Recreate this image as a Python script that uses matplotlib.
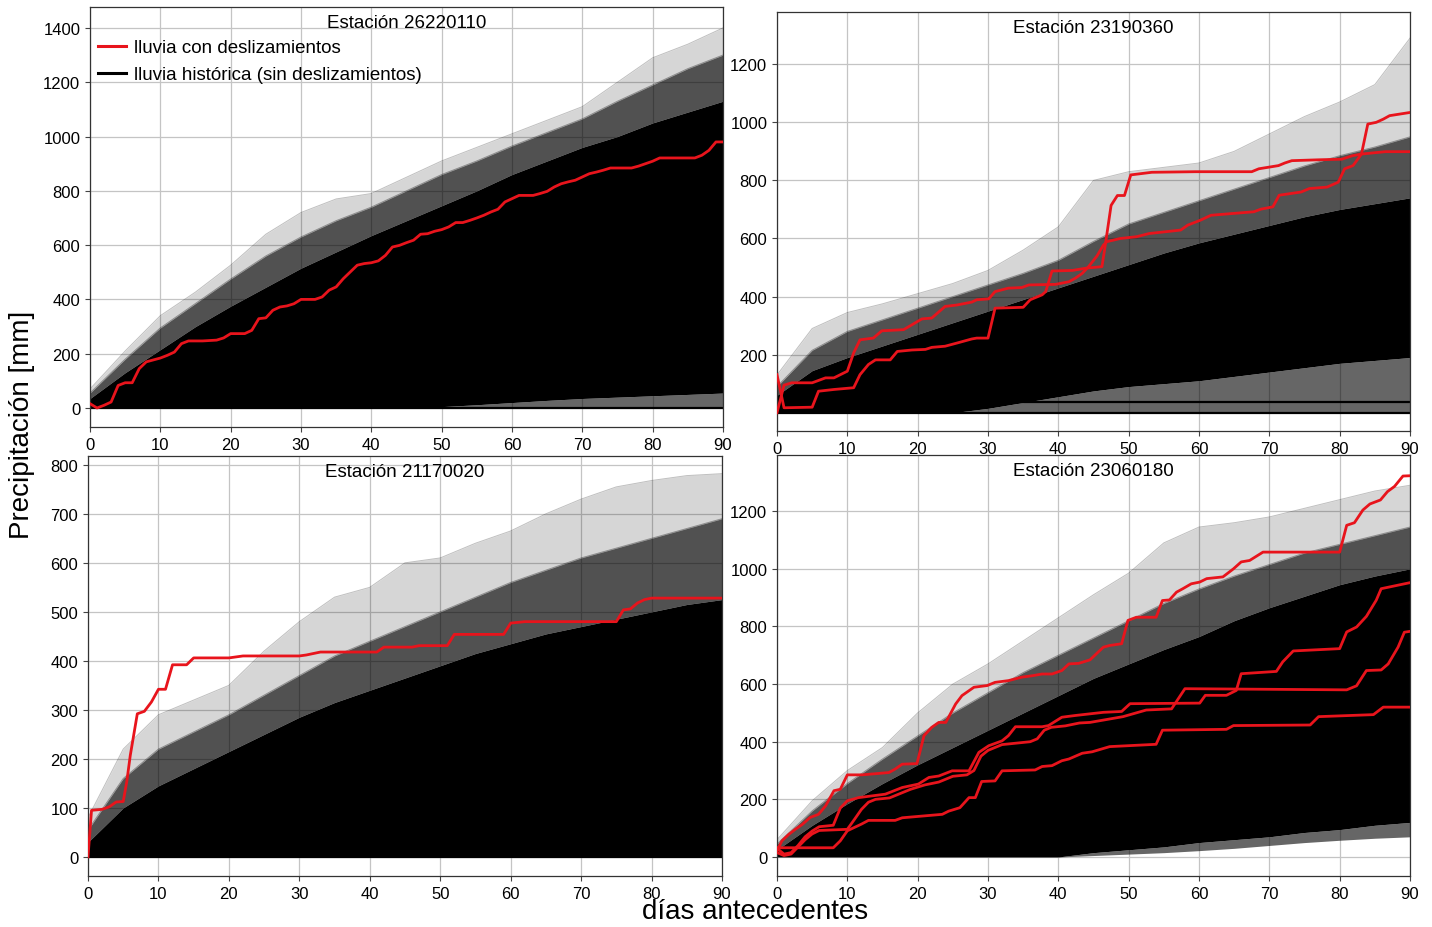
import matplotlib
matplotlib.use("Agg")
import matplotlib.pyplot as plt
from matplotlib.lines import Line2D

plt.rcParams.update({"font.family": ["Liberation Sans", "DejaVu Sans"],
                     "font.size": 12})

# envelope sample days (the black mass of historic curves is drawn as bands)
ENV_DAYS = [0, 5, 10, 15, 20, 25, 30, 35, 40, 45, 50, 55, 60, 65, 70, 75, 80, 85, 90]

# ---- Estación 26220110 ------------------------------------------------- #
S1_OUTER = [70, 210, 340, 427, 526, 640, 720, 770, 790, 850, 910, 960, 1010,
            1060, 1110, 1200, 1290, 1340, 1400]
S1_MID = [55, 180, 295, 385, 475, 560, 630, 690, 740, 800, 860, 910, 965,
          1015, 1065, 1130, 1190, 1250, 1300]
S1_DENSE = [35, 130, 215, 300, 375, 445, 515, 575, 635, 690, 745, 800, 860,
            910, 960, 1000, 1050, 1090, 1130]
S1_SOLID_LO = [0, 0, 0, 0, 0, 0, 0, 0, 0, 0, 5, 12, 20, 28, 35, 40, 45, 50, 55]
S1_FLOOR = [0] * 19
S1_HLINES = [0]
S1_RED = [(
    [0, 1, 2, 3, 4, 5, 6, 7, 8, 10, 11, 12, 13, 14, 16, 18, 19, 20, 22, 23, 24,
     25, 26, 27, 28, 29, 30, 32, 33, 34, 35, 36, 37, 38, 39, 40, 41, 42, 43, 44,
     45, 46, 47, 48, 49, 50, 51, 52, 53, 54, 55, 56, 57, 58, 59, 60, 61, 63, 64,
     65, 66, 67, 68, 69, 70, 71, 72, 73, 74, 77, 78, 79, 80, 81, 86, 87, 88, 89,
     90],
    [16, 0, 10, 22, 83, 93, 93, 145, 170, 184, 194, 206, 237, 247, 247, 250,
     258, 274, 274, 286, 329, 332, 360, 372, 376, 384, 400, 400, 409, 434, 446,
     476, 501, 526, 532, 535, 542, 562, 593, 599, 609, 618, 640, 642, 651, 657,
     667, 683, 683, 691, 700, 710, 722, 732, 759, 771, 783, 783, 790, 798, 814,
     826, 833, 839, 851, 863, 869, 876, 884, 884, 891, 900, 909, 921, 921, 931,
     949, 980, 980])]

# ---- Estación 23190360 ------------------------------------------------- #
S2_OUTER = [130, 290, 345, 375, 410, 445, 490, 560, 640, 800, 830, 845, 860,
            900, 960, 1020, 1070, 1130, 1290]
S2_MID = [90, 215, 280, 320, 360, 400, 440, 480, 525, 590, 650, 690, 730,
          770, 810, 850, 885, 915, 950]
S2_DENSE = [60, 145, 190, 230, 270, 310, 350, 390, 430, 470, 510, 550, 585,
            615, 645, 675, 700, 720, 740]
S2_SOLID_LO = [0, 0, 0, 0, 0, 0, 15, 35, 55, 75, 90, 100, 110, 125, 140, 155,
               170, 180, 190]
S2_FLOOR = [0] * 19
S2_HLINES = [0, 38]
S2_RED = [
    ([0, 1, 2.1, 5, 6.9, 8.1, 10, 10.9, 11.8, 13.7, 14.9, 18, 19.2, 20.6, 22,
      23.9, 25.6, 27.7, 28.4, 30.1, 31, 32.9, 34.8, 35.8, 39.6, 41.5, 42.4,
      43.4, 44.3, 45.5, 46.4, 46.9, 48.8, 51.1, 52.9, 57.4, 58.4, 60.2, 61.7,
      67.8, 68.8, 70.5, 71.4, 74.5, 75.7, 78.2, 79.8, 80.7, 81.9, 82.6, 83.1,
      84, 85.2, 86.2, 87.1, 90],
     [0, 95, 103, 103, 120, 120, 143, 206, 251, 257, 282, 286, 303, 323, 326,
      366, 371, 381, 389, 392, 417, 429, 431, 440, 442, 451, 463, 480, 503, 540,
      577, 589, 600, 606, 617, 629, 646, 663, 680, 692, 701, 709, 749, 760, 772,
      777, 794, 840, 851, 874, 891, 994, 1000, 1011, 1023, 1034]),
    ([0, 1, 5, 5.9, 8.1, 10.9, 11.8, 13, 14, 16.1, 17.1, 19.2, 21.1, 22, 23.9,
      25.6, 27.7, 28.4, 30, 31, 35, 36, 37.7, 38.2, 39.1, 42, 44, 46.2, 46.6,
      47.5, 48.4, 49.4, 50.3, 53.3, 59.5, 67.5, 68.5, 71.3, 72.2, 73.2, 77,
      80.3, 81.8, 83.2, 86.5, 90],
     [131, 17, 19, 74, 80, 86, 131, 166, 182, 182, 211, 216, 218, 225, 229, 240,
      254, 257, 257, 360, 363, 389, 406, 417, 488, 490, 498, 503, 565, 714, 748,
      748, 819, 828, 830, 830, 840, 851, 860, 868, 871, 873, 885, 891, 899,
      899]),
]

# ---- Estación 21170020 ------------------------------------------------- #
S3_OUTER = [80, 220, 290, 320, 350, 420, 480, 530, 550, 600, 610, 640, 665,
            700, 730, 755, 768, 778, 782]
S3_MID = [55, 160, 220, 255, 290, 330, 370, 410, 440, 470, 500, 530, 560,
          585, 610, 630, 650, 670, 690]
S3_DENSE = [30, 100, 145, 180, 215, 250, 285, 315, 340, 365, 390, 415, 435,
            455, 470, 485, 500, 515, 525]
S3_SOLID_LO = [0] * 19
S3_FLOOR = [0] * 19
S3_HLINES = [0]
S3_RED = [(
    [0, 0.5, 2, 3, 4, 5, 5.5, 6, 7, 8, 9, 10, 11, 12, 14, 15, 20, 22, 30, 31,
     33, 41, 42, 46, 47, 51, 52, 59, 60, 62, 75, 76, 77, 78, 79, 80, 90],
    [0, 95, 97, 102, 112, 113, 153, 207, 292, 297, 316, 342, 342, 392, 392,
     406, 406, 410, 410, 412, 418, 418, 428, 428, 431, 431, 454, 454, 477, 480,
     480, 504, 506, 518, 525, 528, 528])]

# ---- Estación 23060180 ------------------------------------------------- #
S4_OUTER = [60, 195, 300, 380, 500, 600, 670, 750, 830, 910, 985, 1090, 1145,
            1160, 1180, 1210, 1240, 1270, 1290]
S4_MID = [45, 160, 255, 340, 420, 500, 570, 640, 700, 760, 820, 880, 930,
          975, 1015, 1055, 1085, 1115, 1145]
S4_DENSE = [25, 110, 185, 255, 320, 380, 440, 500, 560, 620, 670, 720, 765,
            820, 865, 905, 945, 975, 1000]
S4_SOLID_LO = [0, 0, 0, 0, 0, 0, 0, 0, 0, 15, 25, 35, 50, 60, 70, 85, 95, 110,
               120]
S4_FLOOR = [0, 0, 0, 0, 0, 0, 0, 0, 0, 5, 10, 15, 22, 30, 40, 50, 58, 65, 70]
S4_HLINES = []
S4_RED = [
    ([0, 0.7, 1.7, 2.6, 3.6, 4.7, 5.9, 6.9, 8.1, 9, 10, 12.1, 15.9, 16.8, 17.8,
      19.9, 20.9, 22, 23, 24, 25.4, 26.3, 28, 29.9, 31, 32.9, 34.8, 36.3, 37.7,
      39.1, 40.5, 41.5, 42.9, 44.5, 45.4, 46.4, 47.3, 49, 49.9, 51.1, 53.9,
      54.8, 55.8, 56.8, 57.7, 58.9, 60.1, 61.1, 63.4, 64.9, 66, 67.2, 69.1, 80,
      81, 82.1, 83.3, 84.3, 85.8, 86.8, 87.8, 89, 90],
     [21, 56, 79, 96, 113, 137, 148, 177, 230, 235, 285, 285, 293, 305, 322,
      324, 421, 450, 467, 467, 531, 560, 589, 595, 606, 612, 624, 629, 635, 635,
      647, 670, 672, 684, 705, 728, 734, 740, 821, 832, 832, 890, 892, 919, 931,
      948, 954, 966, 972, 1000, 1024, 1029, 1058, 1058, 1151, 1160, 1204, 1225,
      1239, 1268, 1286, 1322, 1323]),
    ([0, 1, 2, 3, 4, 5, 6, 8, 9, 10, 11.6, 15.4, 17.8, 20.1, 21.6, 23, 24.9,
      27.3, 28.7, 30.1, 32, 32.9, 33.9, 37.7, 38.6, 40.5, 42.4, 46.4, 49, 50.2,
      60.1, 60.9, 63.9, 65.3, 66, 71, 71.9, 73.4, 80, 81, 82.4, 83.8, 85.2,
      85.9, 90],
     [30, 10, 15, 40, 70, 90, 105, 110, 170, 195, 206, 218, 241, 253, 276, 281,
      299, 299, 363, 386, 403, 421, 452, 452, 456, 485, 491, 502, 505, 532, 534,
      561, 561, 578, 636, 644, 677, 715, 723, 781, 798, 835, 891, 931, 952]),
    ([0, 1, 2, 3, 4, 5, 6, 10, 11, 12, 13, 14, 16, 17, 19, 21, 23, 25, 27, 28,
      29, 30, 32, 34, 36, 37, 38, 39, 41, 43, 44.5, 49.2, 52.5, 56.1, 58, 81,
      82.4, 83.8, 85.9, 86.9, 88.3, 89.2, 90],
     [15, 5, 10, 35, 60, 80, 92, 96, 130, 165, 190, 200, 205, 215, 235, 250,
      260, 280, 285, 300, 350, 370, 390, 395, 400, 410, 440, 450, 455, 465, 467,
      487, 510, 514, 584, 580, 594, 647, 649, 670, 728, 780, 783]),
    ([0, 8, 9, 10, 12, 13, 16.8, 17.8, 23.5, 24.4, 26, 27.3, 28.2, 29.1, 31, 32,
      36.7, 37.7, 39.1, 40.5, 41.5, 43.4, 44.8, 47.3, 53.9, 54.8, 63.9, 64.9,
      75.8, 77, 84.8, 86.2, 90],
     [32, 32, 56, 91, 114, 127, 127, 136, 148, 159, 171, 206, 206, 262, 264,
      299, 302, 314, 317, 334, 340, 360, 365, 383, 391, 440, 443, 456, 458, 487,
      494, 520, 520]),
]

PANELS = [
    ("Estación 26220110", [90, 8, 723, 428], (-70, 1477), [0, 200, 400, 600, 800, 1000, 1200, 1400],
     S1_OUTER, S1_MID, S1_DENSE, S1_SOLID_LO, S1_FLOOR, S1_HLINES, S1_RED),
    ("Estación 23190360", [777, 13, 1410, 432], (-63, 1380), [200, 400, 600, 800, 1000, 1200],
     S2_OUTER, S2_MID, S2_DENSE, S2_SOLID_LO, S2_FLOOR, S2_HLINES, S2_RED),
    ("Estación 21170020", [88, 457, 722, 877], (-39, 818), [0, 100, 200, 300, 400, 500, 600, 700, 800],
     S3_OUTER, S3_MID, S3_DENSE, S3_SOLID_LO, S3_FLOOR, S3_HLINES, S3_RED),
    ("Estación 23060180", [777, 456, 1410, 877], (-66, 1395), [0, 200, 400, 600, 800, 1000, 1200],
     S4_OUTER, S4_MID, S4_DENSE, S4_SOLID_LO, S4_FLOOR, S4_HLINES, S4_RED),
]

W, H = 1432, 928
fig = plt.figure(figsize=(W / 100, H / 100), dpi=100)

axes = []
for (title, box, ylim, yticks, outer, mid, dense, solid_lo, floor,
     hlines, reds) in PANELS:
    x0, y0, x1, y1 = box
    ax = fig.add_axes([x0 / W, 1 - y1 / H, (x1 - x0) / W, (y1 - y0) / H])
    ax.set_axisbelow(True)
    ax.grid(True, color="#c4c4c4", lw=0.9)

    # historic rainfall: fringe bands + solid core
    ax.fill_between(ENV_DAYS, dense, outer, color="k", alpha=0.16, lw=0)
    ax.fill_between(ENV_DAYS, dense, mid, color="k", alpha=0.62, lw=0)
    ax.plot(ENV_DAYS, outer, color="k", alpha=0.25, lw=0.7)
    ax.plot(ENV_DAYS, mid, color="k", alpha=0.35, lw=0.7)
    ax.fill_between(ENV_DAYS, solid_lo, dense, color="k", lw=0)
    ax.fill_between(ENV_DAYS, floor, solid_lo, color="k", alpha=0.6, lw=0)
    for h in hlines:
        ax.axhline(h, color="k", lw=1.6)

    for d, v in reds:
        ax.plot(d, v, color="#e8141c", lw=2.0, zorder=5)

    ax.set_xlim(0, 90)
    ax.set_ylim(*ylim)
    ax.set_xticks([0, 10, 20, 30, 40, 50, 60, 70, 80, 90])
    ax.set_yticks(yticks)
    ax.tick_params(labelsize=12, length=3.5, color="#444")
    for s in ax.spines.values():
        s.set_color("#333")
        s.set_linewidth(0.9)
    ax.text(0.5, 0.962, title, transform=ax.transAxes, ha="center",
            va="center", fontsize=13.5, zorder=6)
    axes.append(ax)

handles = [Line2D([], [], color="#e8141c", lw=2.2),
           Line2D([], [], color="k", lw=2.2)]
axes[0].legend(handles, ["lluvia con deslizamientos",
                         "lluvia histórica (sin deslizamientos)"],
               loc="upper left", bbox_to_anchor=(0.0, 0.941), borderaxespad=0,
               frameon=False, fontsize=13.5, handlelength=1.5,
               handletextpad=0.45, labelspacing=0.52)

fig.text(22 / W, 1 - 425 / H, "Precipitación [mm]", rotation=90,
         fontsize=20, ha="center", va="center")
fig.text(755 / W, 1 - 912 / H, "días antecedentes", fontsize=20,
         ha="center", va="center")

fig.savefig("out.png", dpi=100)
